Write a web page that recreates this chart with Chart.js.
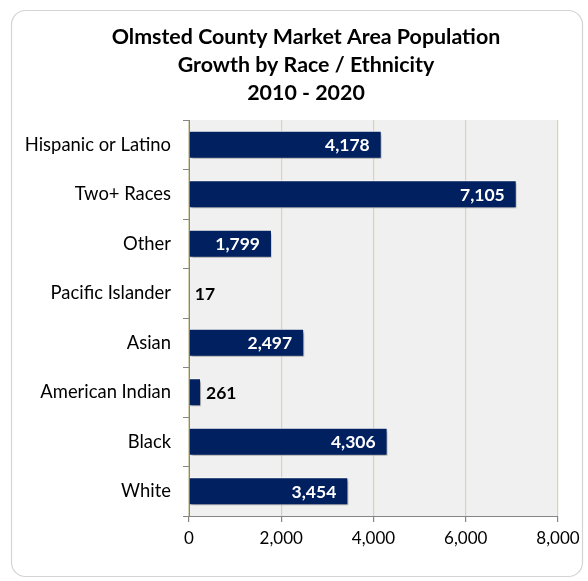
<!DOCTYPE html>
<html>
<head>
<meta charset="utf-8">
<script src="https://cdn.jsdelivr.net/npm/chart.js@4/dist/chart.umd.min.js"></script>
<style>
  html, body { margin: 0; padding: 0; background: #ffffff; }
  #wrap { width: 588px; height: 581px; position: relative; }
</style>
</head>
<body>
<div id="wrap"><canvas id="c" width="588" height="581"></canvas></div>
<script>
const categories = ['Hispanic or Latino', 'Two+ Races', 'Other', 'Pacific Islander', 'Asian', 'American Indian', 'Black', 'White'];
const growth = [4178, 7105, 1799, 17, 2497, 261, 4306, 3454];
const xTicks = [0, 2000, 4000, 6000, 8000];
const titleLines = ['Olmsted County Market Area Population', 'Growth by Race / Ethnicity', '2010 - 2020'];

const FONT = 'Lato, Carlito, Calibri, sans-serif';
const fmt = v => v.toLocaleString('en-US');

const frame = {
  id: 'frame',
  beforeDraw(chart) {
    const ctx = chart.ctx;
    ctx.save();
    ctx.fillStyle = '#ffffff';
    ctx.fillRect(0, 0, chart.width, chart.height);
    const x = 11.5, y = 10.5, w = 571, h = 566, r = 14;
    ctx.beginPath();
    ctx.moveTo(x + r, y);
    ctx.arcTo(x + w, y, x + w, y + h, r);
    ctx.arcTo(x + w, y + h, x, y + h, r);
    ctx.arcTo(x, y + h, x, y, r);
    ctx.arcTo(x, y, x + w, y, r);
    ctx.closePath();
    ctx.strokeStyle = '#d4d4d4';
    ctx.lineWidth = 1.2;
    ctx.stroke();
    const a = chart.chartArea;
    ctx.fillStyle = '#f0f0f0';
    ctx.fillRect(a.left, a.top, a.right - a.left, a.bottom - a.top);
    // chart title (three centred lines)
    ctx.fillStyle = '#000000';
    ctx.font = 'bold 21.4px ' + FONT;
    ctx.textAlign = 'center';
    ctx.textBaseline = 'alphabetic';
    titleLines.forEach((line, i) => ctx.fillText(line, 306, 43.5 + i * 28.3));
    ctx.restore();
  }
};

const shadow = {
  id: 'shadow',
  beforeDatasetsDraw(chart) {
    const ctx = chart.ctx;
    ctx.save();
    ctx.shadowColor = 'rgba(0,0,0,0.4)';
    ctx.shadowBlur = 3;
    ctx.shadowOffsetX = 1.5;
    ctx.shadowOffsetY = 2;
  },
  afterDatasetsDraw(chart) {
    chart.ctx.restore();
    const ctx = chart.ctx;
    ctx.save();
    ctx.font = 'bold 17.5px ' + FONT;
    ctx.textBaseline = 'middle';
    const meta = chart.getDatasetMeta(0);
    meta.data.forEach((bar, i) => {
      const v = growth[i];
      const txt = fmt(v);
      if (v >= 1000) {
        ctx.fillStyle = '#ffffff';
        ctx.textAlign = 'right';
        ctx.fillText(txt, bar.x - 12, bar.y + 1);
      } else {
        ctx.fillStyle = '#000000';
        ctx.textAlign = 'left';
        ctx.fillText(txt, bar.x + 5, bar.y + 1);
      }
    });
    ctx.restore();
  }
};

new Chart(document.getElementById('c'), {
  type: 'bar',
  data: {
    labels: categories,
    datasets: [{
      data: growth,
      backgroundColor: '#002060',
      borderColor: '#ffffff',
      borderWidth: 1,
      barPercentage: 0.57,
      categoryPercentage: 1.0
    }]
  },
  plugins: [frame, shadow],
  options: {
    indexAxis: 'y',
    responsive: false,
    animation: false,
    devicePixelRatio: 1,
    layout: { padding: { left: 12, right: 30, top: 120, bottom: 0 } },
    plugins: {
      legend: { display: false },
      tooltip: { enabled: false },
      title: { display: false }
    },
    scales: {
      x: {
        min: 0,
        max: 8000,
        afterBuildTicks(scale) { scale.ticks = xTicks.map(v => ({ value: v })); },
        afterFit(scale) { scale.height = 65; },
        ticks: {
          callback: v => fmt(v),
          color: '#000000',
          font: { family: FONT, size: 17 },
          padding: 6,
          maxRotation: 0
        },
        grid: {
          color: '#d8d3b4',
          tickColor: '#868686',
          tickLength: 6,
          lineWidth: 1.2
        },
        border: { display: true, color: '#868686', width: 1 }
      },
      y: {
        afterFit(scale) { scale.width = 177; },
        ticks: {
          color: '#000000',
          font: { family: FONT, size: 18.4 },
          padding: 12
        },
        grid: {
          drawOnChartArea: false,
          offset: true,
          tickColor: '#868686',
          tickLength: 6
        },
        border: { display: true, color: '#868686', width: 1 }
      }
    }
  }
});
</script>
</body>
</html>
